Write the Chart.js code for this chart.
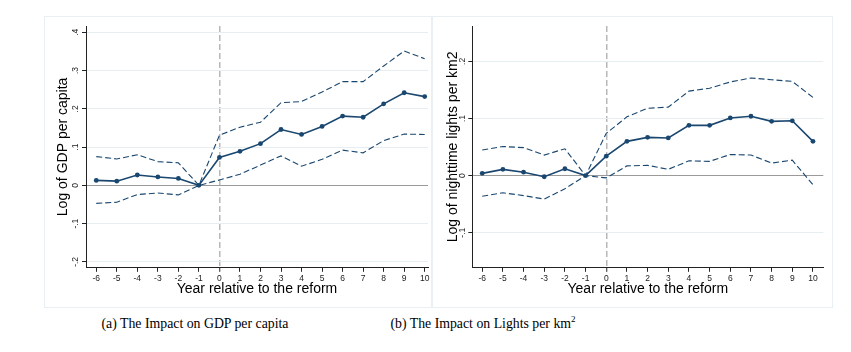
<!DOCTYPE html>
<html><head><meta charset="utf-8">
<script src="https://cdn.jsdelivr.net/npm/chart.js@4/dist/chart.umd.min.js"></script>
<style>
html,body{margin:0;padding:0;background:#fff;width:851px;height:352px;overflow:hidden;}
.panel{position:absolute;outline:1px solid #e9f0f3;outline-offset:-1px;}
.panel canvas{display:block;}
.cap{position:absolute;font-family:"Liberation Serif","Times New Roman",serif;font-size:13.8px;line-height:16px;color:#000;white-space:nowrap;transform:translateX(-50%);}
.cap sup{font-size:9px;line-height:0;vertical-align:6px;}
</style></head><body>
<div class="panel" style="left:44px;top:16px;width:388px;height:292px;"><canvas id="ca" width="388" height="292"></canvas></div>
<div class="panel" style="left:432px;top:16px;width:401px;height:292px;"><canvas id="cb" width="401" height="292"></canvas></div>
<div class="cap" style="left:195px;top:316px;">(a) The Impact on GDP per capita</div>
<div class="cap" style="left:483px;top:316px;">(b) The Impact on Lights per km<sup>2</sup></div>
<script>
// ---- data ----
const years = [-6,-5,-4,-3,-2,-1,0,1,2,3,4,5,6,7,8,9,10];
const xTickValues = [-6,-5,-4,-3,-2,-1,0,1,2,3,4,5,6,7,8,9,10];
const xTitle = 'Year relative to the reform';

const gdpCoef  = [0.013,0.011,0.027,0.022,0.018,0,0.073,0.089,0.109,0.146,0.133,0.154,0.181,0.178,0.213,0.242,0.232];
const gdpUpper = [0.075,0.069,0.080,0.062,0.059,0,0.131,0.152,0.165,0.216,0.219,0.244,0.271,0.271,0.312,0.351,0.331];
const gdpLower = [-0.047,-0.044,-0.024,-0.020,-0.025,0,0.014,0.029,0.053,0.077,0.050,0.068,0.092,0.085,0.117,0.134,0.133];
const gdpYTicks  = [-0.2,-0.1,0,0.1,0.2,0.3,0.4];
const gdpYLabels = ['-.2','-.1','0','.1','.2','.3','.4'];
const gdpYTitle = 'Log of GDP per capita';

const lightsCoef  = [0.004,0.011,0.006,-0.002,0.012,0,0.034,0.060,0.067,0.066,0.088,0.088,0.101,0.104,0.095,0.096,0.060];
const lightsUpper = [0.045,0.051,0.049,0.036,0.047,0,0.074,0.103,0.118,0.120,0.148,0.153,0.164,0.171,0.168,0.165,0.137];
const lightsLower = [-0.036,-0.030,-0.035,-0.041,-0.023,0,-0.004,0.017,0.018,0.011,0.026,0.025,0.037,0.036,0.022,0.027,-0.016];
const lightsYTicks  = [-0.1,0,0.1,0.2];
const lightsYLabels = ['-.1','0','.1','.2'];
const lightsYTitle = 'Log of nighttime lights per km2';

// ---- styling ----
Chart.defaults.font.family = '"Liberation Sans", Arial, Helvetica, sans-serif';
const NAVY = '#1a476f';
const AXIS = '#222222';

function pts(vals){ return years.map((x,i)=>({x:x, y:vals[i]})); }

function build(id, o){
  return new Chart(document.getElementById(id), {
    type:'line',
    data:{datasets:[
      {data:pts(o.upper), borderColor:NAVY, borderWidth:1.1, borderDash:[6,3], pointRadius:0, tension:0, fill:false},
      {data:pts(o.lower), borderColor:NAVY, borderWidth:1.1, borderDash:[6,3], pointRadius:0, tension:0, fill:false},
      {data:pts(o.coef), borderColor:NAVY, borderWidth:1.6, pointRadius:2.4, pointBackgroundColor:NAVY, pointBorderColor:NAVY, pointBorderWidth:0, tension:0, fill:false}
    ]},
    options:{
      responsive:false, animation:false, devicePixelRatio:1,
      layout:{padding:{left:0, right:o.padRight, top:10, bottom:o.padBottom}},
      plugins:{legend:{display:false}, tooltip:{enabled:false}},
      scales:{
        x:{type:'linear', min:o.xMin, max:o.xMax,
          afterBuildTicks:s=>{ s.ticks = xTickValues.map(v=>({value:v})); },
          afterFit:s=>{ s.height = o.xHeight; },
          ticks:{font:{size:8.5}, color:AXIS, padding:2, maxRotation:0, minRotation:0, autoSkip:false, callback:v=>String(v)},
          grid:{color:c=>(c.tick && c.tick.value===0)?'#b8b8b8':'rgba(0,0,0,0)', lineWidth:c=>(c.tick && c.tick.value===0)?1.5:1,
                tickLength:4, tickColor:AXIS, tickWidth:1},
          border:{color:AXIS, width:1, dash:[6,3]},
          title:{display:true, text:xTitle, font:{size:14}, color:'#000', padding:{top:0,bottom:0}}
        },
        y:{type:'linear', min:o.yMin, max:o.yMax,
          afterBuildTicks:s=>{ s.ticks = o.yTicks.map(v=>({value:v})); },
          afterFit:s=>{ s.width = o.yWidth; },
          ticks:{font:{size:8.5}, color:AXIS, padding:1, minRotation:90, maxRotation:90, crossAlign:'center', autoSkip:false,
                 callback:v=>o.yLabels[o.yTicks.indexOf(v)]},
          grid:{color:c=>(c.tick && c.tick.value===0)?'#9a9a9a':'#e7eef1', lineWidth:1, tickLength:4, tickColor:AXIS, tickWidth:1},
          border:{color:AXIS, width:1},
          title:{display:true, text:o.yTitle, font:{size:14}, color:'#000', padding:{top:o.yTitlePad,bottom:0}}
        }
      }
    }
  });
}

build('ca', {coef:gdpCoef, upper:gdpUpper, lower:gdpLower, yTicks:gdpYTicks, yLabels:gdpYLabels, yTitle:gdpYTitle,
  xMin:-6.5, xMax:10.16, yMin:-0.2155, yMax:0.4165, padRight:1.3, padBottom:10.8, xHeight:29.4, yWidth:42, yTitlePad:10.6});
build('cb', {coef:lightsCoef, upper:lightsUpper, lower:lightsLower, yTicks:lightsYTicks, yLabels:lightsYLabels, yTitle:lightsYTitle,
  xMin:-6.48, xMax:10.5, yMin:-0.1614, yMax:0.262, padRight:9.7, padBottom:10.8, xHeight:29.4, yWidth:40.3, yTitlePad:12.9});
</script>
</body></html>
